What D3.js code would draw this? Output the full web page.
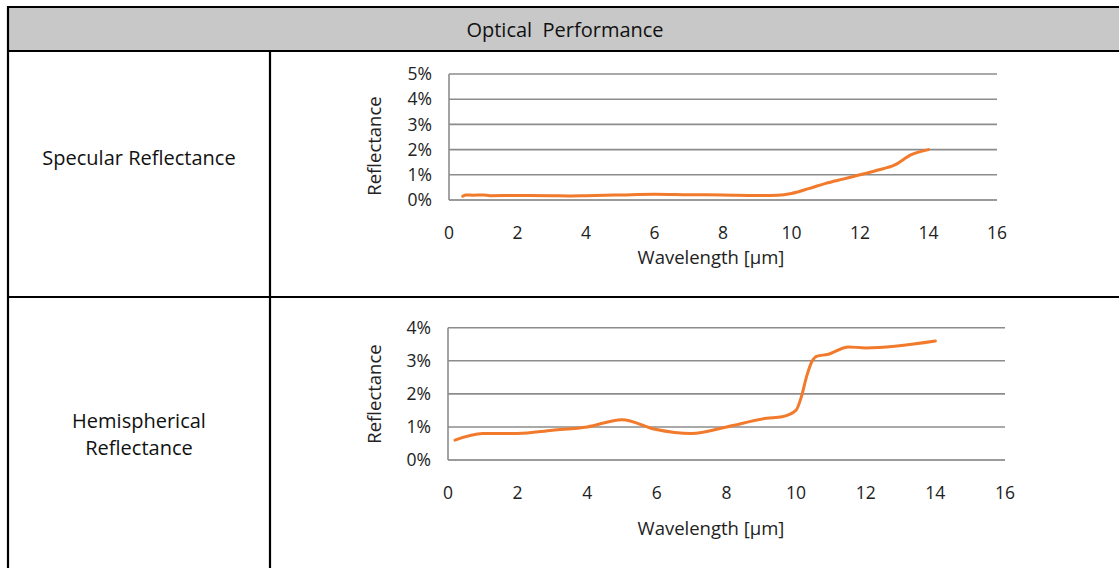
<!DOCTYPE html>
<html>
<head>
<meta charset="utf-8">
<script src="https://cdn.jsdelivr.net/npm/d3@7"></script>
<style>
  body { margin: 0; background: #fff; }
  svg { display: block; font-family: "Open Sans", "Noto Sans", sans-serif; }
</style>
</head>
<body>
<svg id="chart" width="1119" height="568"></svg>
<script>
// table text
const headerTitle = "Optical  Performance";
const rowLabels = [["Specular Reflectance"], ["Hemispherical", "Reflectance"]];

// x ticks shared by both charts (wavelength in µm)
const xTicks = [0, 2, 4, 6, 8, 10, 12, 14, 16];

// specular reflectance [wavelength, %]
const specularWl = [0.4, 0.5, 0.7, 1.0, 1.2, 2, 3, 3.5, 4, 5, 6, 7, 8, 9, 9.6, 10, 10.5, 11, 11.5, 12, 12.5, 13, 13.5, 14];
const specularR  = [0.15, 0.2, 0.19, 0.2, 0.17, 0.18, 0.17, 0.16, 0.17, 0.2, 0.23, 0.21, 0.2, 0.18, 0.19, 0.26, 0.45, 0.66, 0.83, 1.0, 1.18, 1.38, 1.8, 2.0];
const specularYTicks = [0, 1, 2, 3, 4, 5];

// hemispherical reflectance [wavelength, %]
const hemiWl = [0.2, 1.0, 2, 3, 4, 5, 5.95, 7, 8, 9.15, 9.6, 10, 10.15, 10.3, 10.45, 10.6, 10.9, 11.5, 12, 14];
const hemiR  = [0.6, 0.8, 0.8, 0.9, 1.0, 1.22, 0.93, 0.8, 1.0, 1.26, 1.31, 1.51, 1.91, 2.52, 2.97, 3.14, 3.19, 3.42, 3.39, 3.6];
const hemiYTicks = [0, 1, 2, 3, 4];

const svg = d3.select("#chart");

// header band
svg.append("rect").attr("x", 8).attr("y", 7).attr("width", 1111).attr("height", 44).attr("fill", "#c8c8c8");
svg.append("text")
    .attr("x", 565).attr("y", 30).attr("dy", "0.35em")
    .attr("text-anchor", "middle")
    .style("font-size", "20px").style("fill", "#111")
    .style("white-space", "pre")
    .text(headerTitle);

// table rules
const rule = (x1, y1, x2, y2) => svg.append("line")
    .attr("x1", x1).attr("y1", y1).attr("x2", x2).attr("y2", y2)
    .attr("stroke", "#000").attr("stroke-width", 2.2);
rule(8, 7, 1119, 7);
rule(8, 6, 8, 568);
rule(8, 51, 1119, 51);
rule(8, 297, 1119, 297);
rule(270, 51, 270, 568);

// row labels
const labelY = [[158], [421, 448]];
rowLabels.forEach((lines, i) => {
    lines.forEach((t, j) => {
        svg.append("text")
            .attr("x", 139).attr("y", labelY[i][j]).attr("dy", "0.35em")
            .attr("text-anchor", "middle")
            .style("font-size", "20px").style("fill", "#111")
            .text(t);
    });
});

function drawChart(opts) {
    const x = d3.scaleLinear().domain([0, 16]).range([opts.left, opts.right]);
    const y = d3.scaleLinear().domain([0, d3.max(opts.yTicks)]).range([opts.bottom, opts.top]);
    const g = svg.append("g");

    // gridlines
    g.selectAll(".grid")
        .data(opts.yTicks)
        .join("line")
        .attr("x1", opts.left).attr("x2", opts.right)
        .attr("y1", d => y(d)).attr("y2", d => y(d))
        .attr("stroke", d => d === 0 ? "#7a7a7a" : "#8c8c8c")
        .attr("stroke-width", 1.6);

    // left axis line
    g.append("line")
        .attr("x1", opts.left).attr("x2", opts.left)
        .attr("y1", opts.top).attr("y2", opts.bottom)
        .attr("stroke", "#8c8c8c").attr("stroke-width", 1.6);

    // y tick labels
    g.selectAll(".ytick")
        .data(opts.yTicks)
        .join("text")
        .attr("x", opts.left - 17).attr("y", d => y(d)).attr("dy", "0.35em")
        .attr("text-anchor", "end")
        .style("font-size", "17.5px").style("fill", "#222")
        .text(d => d + "%");

    // x tick labels
    g.selectAll(".xtick")
        .data(xTicks)
        .join("text")
        .attr("x", d => x(d)).attr("y", opts.bottom + 33).attr("dy", "0.35em")
        .attr("text-anchor", "middle")
        .style("font-size", "17.5px").style("fill", "#222")
        .text(d => d);

    // axis titles
    g.append("text")
        .attr("x", 711).attr("y", opts.bottom + opts.xTitleOffset).attr("dy", "0.35em")
        .attr("text-anchor", "middle")
        .style("font-size", "18.5px").style("fill", "#222")
        .text("Wavelength [µm]");
    g.append("text")
        .attr("transform", `translate(375,${opts.yTitleY}) rotate(-90)`)
        .attr("dy", "0.35em")
        .attr("text-anchor", "middle")
        .style("font-size", "18.5px").style("fill", "#222")
        .text("Reflectance");

    const pts = opts.wl.map((w, i) => [w, opts.r[i]]);
    g.append("path")
        .datum(pts)
        .attr("fill", "none")
        .attr("stroke", "#f27a2c")
        .attr("stroke-width", 3)
        .attr("stroke-linecap", "round")
        .attr("d", d3.line().x(d => x(d[0])).y(d => y(d[1])).curve(d3.curveMonotoneX));
}

drawChart({ left: 449, right: 997, top: 74, bottom: 200, yTicks: specularYTicks, wl: specularWl, r: specularR, xTitleOffset: 58, yTitleY: 146 });
drawChart({ left: 448, right: 1005, top: 327.7, bottom: 460, yTicks: hemiYTicks, wl: hemiWl, r: hemiR, xTitleOffset: 69, yTitleY: 394 });
</script>
</body>
</html>
